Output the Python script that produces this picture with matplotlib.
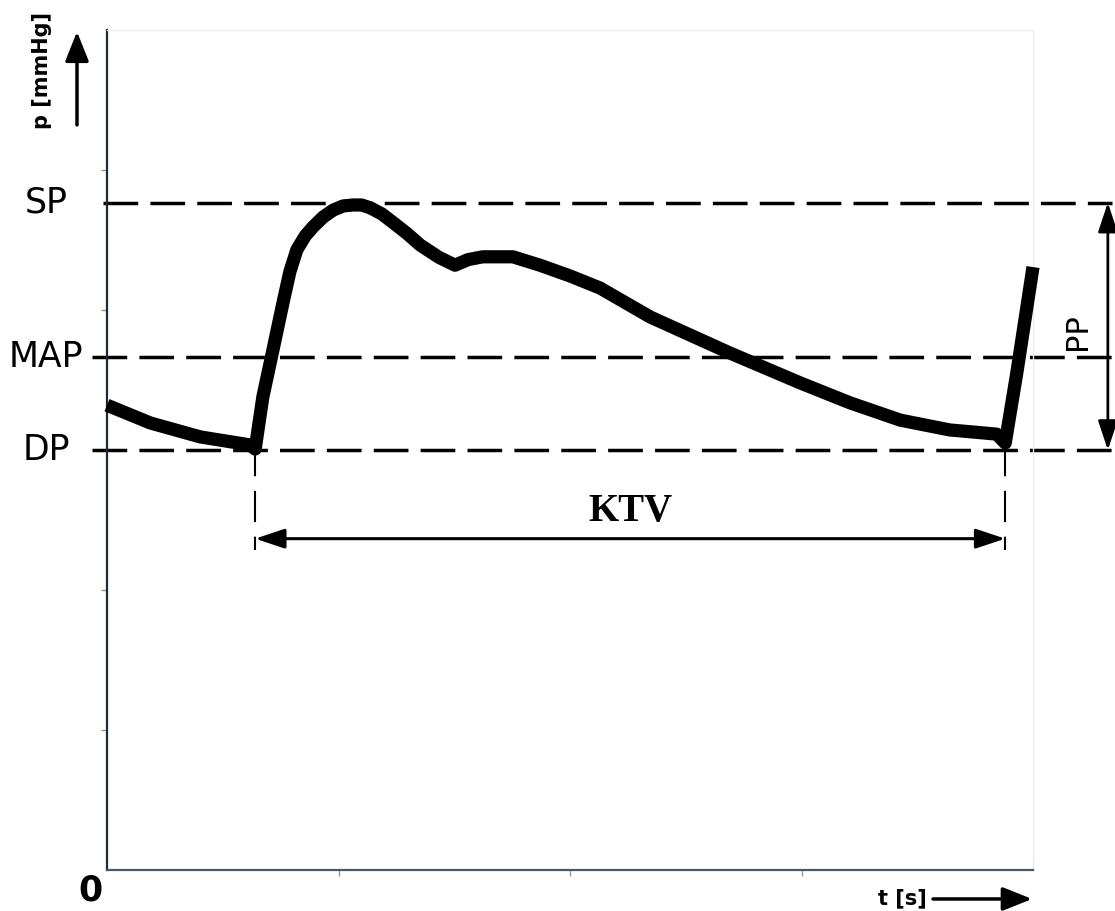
import matplotlib
matplotlib.use('Agg')
import matplotlib.pyplot as plt

# pressure waveform (time in s, pressure in mmHg)
t_s = [0.0, 0.056, 0.121, 0.185, 0.192, 0.202, 0.215, 0.228, 0.237, 0.246,
       0.257, 0.267, 0.280, 0.293, 0.306, 0.319, 0.330, 0.341, 0.356, 0.371,
       0.388, 0.406, 0.430, 0.451, 0.468, 0.487, 0.526, 0.561, 0.600, 0.639,
       0.704, 0.807, 0.898, 0.963, 1.028, 1.092, 1.153, 1.164, 1.179, 1.2]
p_mmhg = [99.6, 95.8, 92.8, 91.1, 90.2, 101.4, 111.4, 121.5, 128.2, 132.9,
          135.9, 137.8, 139.9, 141.4, 142.3, 142.5, 142.5, 141.9, 140.6, 138.7,
          136.5, 133.9, 131.3, 129.6, 130.8, 131.4, 131.4, 129.6, 127.3, 124.7,
          118.5, 110.8, 104.4, 100.1, 96.4, 94.3, 93.4, 91.5, 106.5, 129.2]

levels = {'SP': 143, 'MAP': 110, 'DP': 90}
level_start = {'SP': -0.005, 'MAP': -0.019, 'DP': -0.02}
line_end = 1.302

beat_start = 0.192
beat_end = 1.164
ktv_y = 71
pp_x = 1.297

y_ticks = [30, 60, 90, 120, 150]
x_ticks = [0.3, 0.6, 0.9]

fig = plt.figure(figsize=(11.15, 9.11), dpi=100)
ax = fig.add_axes([107/1115, 41/911, 926/1115, 840/911])
ax.set_xlim(0, 1.2)
ax.set_ylim(0, 180)

# spines
ax.spines['left'].set_color('#1c2833')
ax.spines['left'].set_linewidth(1.6)
ax.spines['bottom'].set_color('#4a5866')
ax.spines['bottom'].set_linewidth(1.6)
for s in ['top', 'right']:
    ax.spines[s].set_color('#e4edf4')
    ax.spines[s].set_linewidth(1)

ax.set_xticks(x_ticks)
ax.set_yticks(y_ticks)
ax.tick_params(axis='both', length=4, width=1, color='#8a96a0',
               labelbottom=False, labelleft=False)

# reference levels
dash = (0, (10, 3.5))
for name, val in levels.items():
    ax.plot([level_start[name], line_end], [val, val], color='black', lw=2.5,
            linestyle=dash, clip_on=False)
    ax.text(-0.0659, val, name, transform=ax.get_yaxis_transform(),
            ha='center', va='center', fontsize=25, family='DejaVu Sans')

# waveform
ax.plot(t_s, p_mmhg, color='black', lw=9.5, solid_capstyle='butt',
        solid_joinstyle='round', clip_on=False, zorder=5)

# beat boundaries
for tb in [beat_start, beat_end]:
    ax.plot([tb, tb], [levels['DP'] + 1, 68.6], color='black', lw=1.5,
            linestyle=(0, (15, 7)), zorder=4)

# KTV arrow
ax.annotate('', xy=(beat_end, ktv_y), xytext=(beat_start, ktv_y),
            arrowprops=dict(arrowstyle='<|-|>,head_length=0.9,head_width=0.3',
                            color='black', lw=2.2, mutation_scale=20,
                            shrinkA=0, shrinkB=0))
ax.text((beat_start + beat_end) / 2, 76.9, 'KTV', ha='center', va='center',
        fontsize=28, fontweight='bold', family='Liberation Serif')

# PP arrow
ax.annotate('', xy=(pp_x, levels['SP']), xytext=(pp_x, levels['DP']),
            arrowprops=dict(arrowstyle='<|-|>,head_length=0.9,head_width=0.3',
                            color='black', lw=2, mutation_scale=20,
                            shrinkA=0, shrinkB=0), annotation_clip=False)
ax.text(1.258, 115.3, 'PP', rotation=90, ha='center', va='center',
        fontsize=22, family='DejaVu Sans', clip_on=False)

# axis labels with arrows
ax.text(-0.018, -0.024, '0', transform=ax.transAxes, ha='center', va='center',
        fontsize=25, fontweight='bold')
ax.text(-0.0702, 0.952, 'p [mmHg]', transform=ax.transAxes, rotation=90,
        ha='center', va='center', fontsize=15, fontweight='bold')
ax.annotate('', xy=(-0.0324, 0.998), xytext=(-0.0324, 0.887),
            xycoords='axes fraction', textcoords='axes fraction',
            arrowprops=dict(arrowstyle='-|>,head_length=1.0,head_width=0.4',
                            color='black', lw=2.5, mutation_scale=18,
                            shrinkA=0, shrinkB=0))
ax.text(0.8585, -0.0333, 't [s]', transform=ax.transAxes, ha='center',
        va='center', fontsize=15, fontweight='bold')
ax.annotate('', xy=(0.999, -0.0345), xytext=(0.892, -0.0345),
            xycoords='axes fraction', textcoords='axes fraction',
            arrowprops=dict(arrowstyle='-|>,head_length=1.0,head_width=0.4',
                            color='black', lw=2.5, mutation_scale=18,
                            shrinkA=0, shrinkB=0))

fig.savefig('out.png', dpi=100)
